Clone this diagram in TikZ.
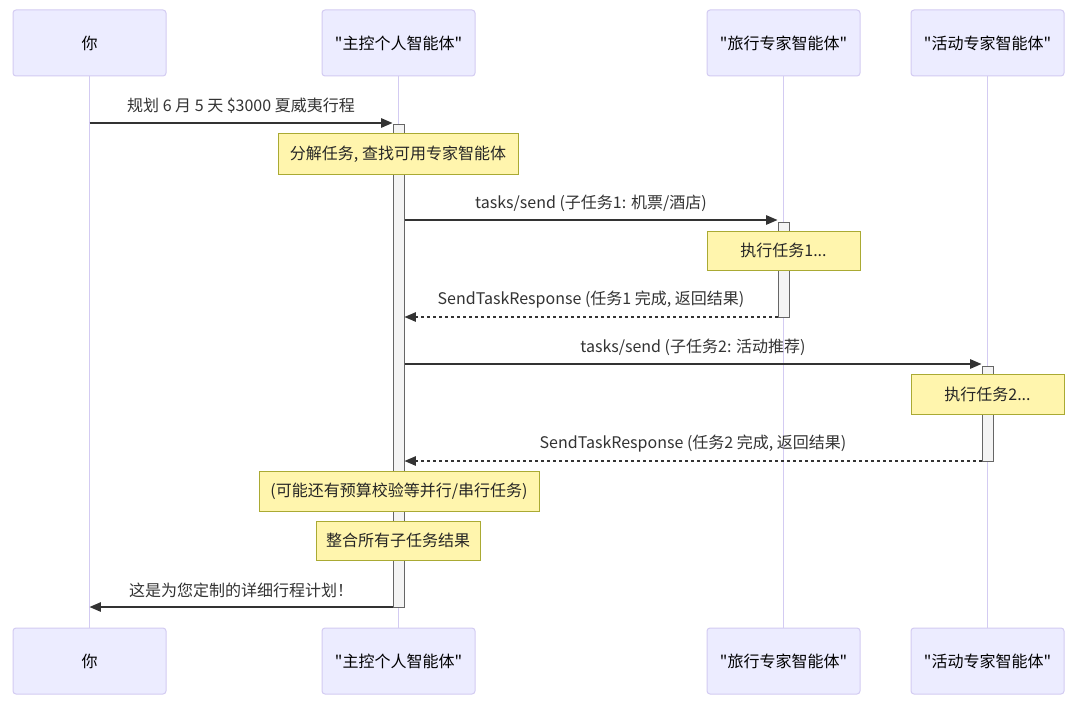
\documentclass[tikz,border=0pt]{standalone}
\usepackage{fontspec}
\newfontfamily\dfont{Noto Sans CJK SC}
\usetikzlibrary{arrows.meta}
\definecolor{actfill}{HTML}{ECECFF}
\definecolor{actline}{HTML}{D3CBF2}
\definecolor{notefill}{HTML}{FFF5AD}
\definecolor{noteline}{HTML}{AAAA33}
\definecolor{msg}{HTML}{333333}
\definecolor{actvfill}{HTML}{F4F4F4}
\definecolor{actvline}{HTML}{666666}
\tikzset{
  actor/.style={draw=actline, fill=actfill, rounded corners=2.25pt, minimum width=114.75pt, minimum height=49.5pt, inner sep=0pt, line width=0.75pt, text=black},
  life/.style={draw=actline, line width=1.3pt},
  note/.style={draw=noteline, fill=notefill, inner sep=0pt, line width=0.75pt, text=black!85},
  activ/.style={draw=actvline, fill=actvfill, minimum width=8.25pt, inner sep=0pt, line width=0.75pt},
  msgline/.style={draw=msg, line width=1.1pt, -{Triangle[length=8.5pt,width=7pt]}},
  ret/.style={msgline, dash pattern=on 2.25pt off 2.25pt},
  lbl/.style={text=msg, inner sep=0pt, midway, yshift=12.75pt}
}
\begin{document}
\begin{tikzpicture}[x=0.75pt,y=-0.75pt, every node/.style={font=\dfont\fontsize{12pt}{14pt}\selectfont}]
\useasboundingbox (0,0) rectangle (1080,706);
\fill[white] (0,0) rectangle (1080,706);
% actors
\node[actor] (u) at (89.5,43) {你};
\node[actor] (m) at (398.5,43) {"主控个人智能体"};
\node[actor] (t) at (783.5,43) {"旅行专家智能体"};
\node[actor] (e) at (987.5,43) {"活动专家智能体"};
\node[actor] (ub) at (89.5,661) {你};
\node[actor] (mb) at (398.5,661) {"主控个人智能体"};
\node[actor] (tb) at (783.5,661) {"旅行专家智能体"};
\node[actor] (eb) at (987.5,661) {"活动专家智能体"};
% lifelines
\draw[life] (u.south) -- (ub.north);
\draw[life] (m.south) -- (mb.north);
\draw[life] (t.south) -- (tb.north);
\draw[life] (e.south) -- (eb.north);
% activations
\node[activ, minimum height=361.5pt] (a1) at (398.5,366) {};
\node[activ, minimum height=71.25pt] (a2) at (783.5,269.5) {};
\node[activ, minimum height=71.25pt] (a3) at (987.5,413.5) {};
% notes
\node[note, minimum width=180pt, minimum height=30pt] (n1) at (398,154) {分解任务, 查找可用专家智能体};
\node[note, minimum width=114.75pt, minimum height=29.25pt] (n2) at (783.5,250.5) {执行任务1...};
\node[note, minimum width=114.75pt, minimum height=30pt] (n3) at (987.5,394) {执行任务2...};
\node[note, minimum width=210pt, minimum height=30pt] (n4) at (399,491) {(可能还有预算校验等并行/串行任务)};
\node[note, minimum width=123pt, minimum height=29.25pt] (n5) at (398,540.5) {整合所有子任务结果};
% message rows
\coordinate (y1) at (0,123);
\coordinate (y2) at (0,220);
\coordinate (y3) at (0,317);
\coordinate (y4) at (0,364);
\coordinate (y5) at (0,461);
\coordinate (y6) at (0,607);
\draw[msgline] (u |- y1) -- (a1.west |- y1) node[lbl] (l1) {规划 6 月 5 天 \$3000 夏威夷行程};
\draw[msgline] (a1.east |- y2) -- (a2.west |- y2) node[lbl] (l2) {tasks/send (子任务1: 机票/酒店)};
\draw[ret] (a2.west |- y3) -- (a1.east |- y3) node[lbl] (l3) {SendTaskResponse (任务1 完成, 返回结果)};
\draw[msgline] (a1.east |- y4) -- (a3.west |- y4) node[lbl] (l4) {tasks/send (子任务2: 活动推荐)};
\draw[ret] (a3.west |- y5) -- (a1.east |- y5) node[lbl] (l5) {SendTaskResponse (任务2 完成, 返回结果)};
\draw[msgline] (a1.west |- y6) -- (u |- y6) node[lbl] (l6) {这是为您定制的详细行程计划！};
\end{tikzpicture}
\end{document}
